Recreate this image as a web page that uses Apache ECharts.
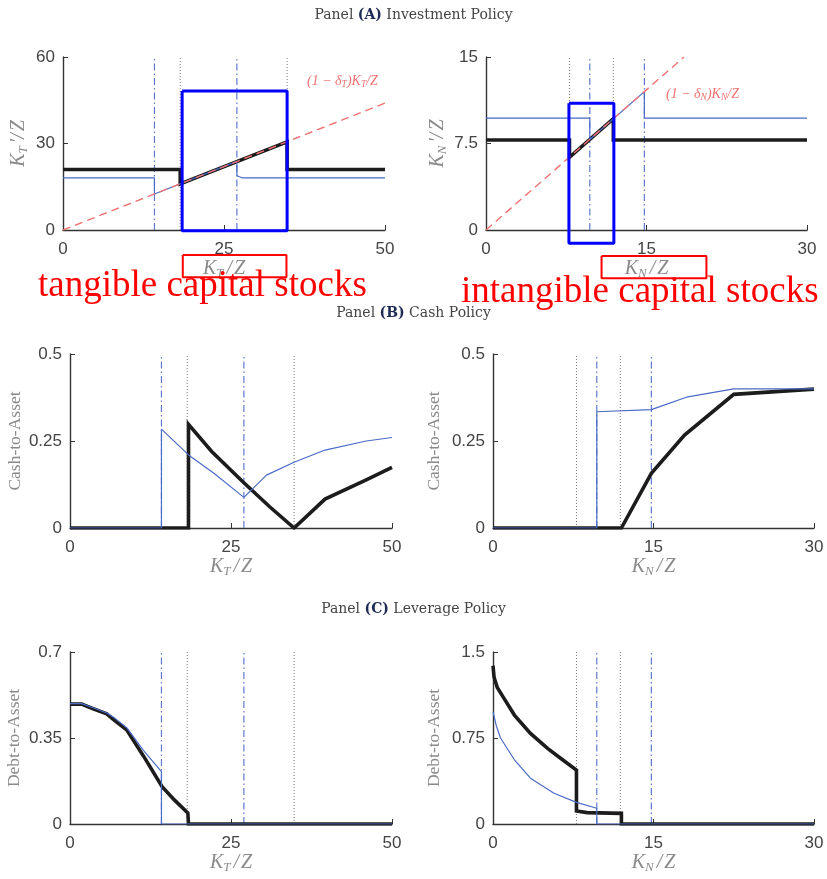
<!DOCTYPE html>
<html><head><meta charset="utf-8">
<script src="https://cdn.jsdelivr.net/npm/echarts@6/dist/echarts.min.js"></script>
<style>html,body{margin:0;padding:0;background:#fff}#c{width:827px;height:879px}</style>
</head><body><div id="c"></div>
<script>
// ---------------- data ----------------
// Panel A (investment policy)
const invT_black = [[0,21],[18.2,21],[18.2,16.0],[34.8,30.6],[34.8,21],[50,21]];
const invT_blue  = [[0,18.1],[14.2,18.1],[14.2,12.5],[27,23.8],[27,18.8],[27.8,18.1],[50,18.1]];
const invT_dep   = [[0,0],[50,44]];
const invN_black = [[0,7.8],[7.8,7.8],[7.8,6.3],[11.9,9.65],[11.9,7.8],[30,7.8]];
const invN_blue  = [[0,9.7],[9.7,9.7],[9.7,7.85],[14.8,12.0],[14.8,9.7],[30,9.7]];
const invN_dep   = [[0,0],[18.5,15]];
// Panel B (cash policy)
const cashT_black = [[0,0],[18.4,0],[18.4,0.298],[22,0.22],[27,0.13],[31,0.061],[34.8,0],[39.6,0.083],[46,0.138],[50,0.174]];
const cashT_blue  = [[0,0],[14.2,0],[14.2,0.284],[18.4,0.21],[22.3,0.158],[27,0.088],[30.5,0.152],[34.8,0.189],[39.6,0.224],[46,0.25],[50,0.26]];
const cashN_black = [[0,0],[12,0],[14.8,0.157],[17.9,0.267],[22.5,0.384],[30,0.399]];
const cashN_blue  = [[0,0],[9.7,0],[9.7,0.334],[14.8,0.34],[18.2,0.377],[22.5,0.40],[30,0.40]];
// Panel C (leverage policy)
const debtT_black = [[0,0.488],[1.8,0.488],[3.5,0.47],[5.7,0.448],[7,0.42],[8.8,0.383],[11.4,0.277],[14.3,0.152],[16.2,0.098],[18.3,0.045],[18.4,0],[50,0]];
const debtT_blue  = [[0,0.49],[1.8,0.49],[3.5,0.474],[5.7,0.452],[7,0.43],[8.8,0.392],[11.4,0.3],[14.2,0.213],[14.2,0],[50,0]];
const debtN_black = [[0,1.38],[0.1,1.28],[0.4,1.19],[1.0,1.1],[2,0.95],[3.5,0.79],[5.1,0.66],[6.5,0.56],[7.8,0.47],[7.8,0.113],[8.8,0.099],[12,0.093],[12,0],[30,0]];
const debtN_blue  = [[0,0.98],[0.3,0.86],[0.7,0.75],[2,0.56],[3.5,0.4],[5.7,0.268],[7.8,0.189],[9.7,0.137],[9.7,0],[30,0]];
// reference vertical lines
const vT_dashdot = [14.2, 27];
const vT_dotted  = [18.2, 34.8];
const vN_dashdot = [9.7, 14.8];
const vN_dotted  = [7.8, 11.9];
// highlight boxes (annotations, in data units)
const boxT_blue = [[18.5,48.2],[34.8,48.2],[34.8,-0.3],[18.5,-0.3],[18.5,48.2]];
const boxN_blue = [[7.75,11.0],[11.95,11.0],[11.95,-1.15],[7.75,-1.15],[7.75,11.0]];
const boxT_red  = [[18.6,-8.7],[34.7,-8.7],[34.7,-16.4],[18.6,-16.4],[18.6,-8.7]];
const boxN_red  = [[10.8,-2.25],[20.6,-2.25],[20.6,-4.19],[10.8,-4.19],[10.8,-2.25]];
// axes
const xMax = [50,30,50,30,50,30];
const xStep = [25,15,25,15,25,15];
const yMax = [60,15,0.5,0.5,0.7,1.5];
const yStep = [30,7.5,0.25,0.25,0.35,0.75];
const xNames = ['{i|K}{s|T}{sl|/}{i|Z}','{i|K}{s|N}{sl|/}{i|Z}','{i|K}{s|T}{sl|/}{i|Z}','{i|K}{s|N}{sl|/}{i|Z}','{i|K}{s|T}{sl|/}{i|Z}','{i|K}{s|N}{sl|/}{i|Z}'];
const yNames = ['{i|K}{s|T}{sl|\u2032/}{i|Z}','{i|K}{s|N}{sl|\u2032/}{i|Z}','{r|Cash-to-Asset}','{r|Cash-to-Asset}','{r|Debt-to-Asset}','{r|Debt-to-Asset}'];
const panelTitles = [['(A)',' Investment Policy'],['(B)',' Cash Policy'],['(C)',' Leverage Policy']];
const annoTexts = ['tangible capital stocks','intangible capital stocks'];

// ---------------- layout ----------------
const grids = [
  {left:63, top:57, width:322, height:173},
  {left:486, top:57, width:321, height:173},
  {left:70, top:354, width:322, height:174},
  {left:493, top:354, width:321, height:174},
  {left:70, top:652, width:322, height:172},
  {left:493, top:652, width:321, height:172}
];
const xGap = [26,26,26,26,22,22];
const yGap = [33,37,46,50,47,50];

const nameRich = {
  i:{fontFamily:'Liberation Serif',fontStyle:'italic',fontSize:20,color:'#8a8a8a'},
  sl:{fontFamily:'Liberation Serif',fontStyle:'italic',fontSize:20,color:'#8a8a8a',padding:[0,2,0,3]},
  s:{fontFamily:'Liberation Serif',fontStyle:'italic',fontSize:13,color:'#8a8a8a',verticalAlign:'bottom',padding:[9,0,0,0]},
  r:{fontFamily:'Liberation Serif',fontSize:17.5,color:'#8a8a8a'}
};
const axisLine = {show:true,lineStyle:{color:'#333',width:1.4}};
const xAxes = grids.map((g,i)=>({
  type:'value', gridIndex:i, min:0, max:xMax[i], interval:xStep[i],
  axisLine, axisTick:{show:true,inside:true,length:5,lineStyle:{color:'#333'}},
  splitLine:{show:false},
  axisLabel:{fontFamily:'Liberation Sans',fontSize:17,color:'#444',margin:11},
  name:xNames[i], nameLocation:'middle', nameGap:xGap[i], nameTextStyle:{rich:nameRich}
}));
const yAxes = grids.map((g,i)=>({
  type:'value', gridIndex:i, min:0, max:yMax[i], interval:yStep[i],
  axisLine, axisTick:{show:true,inside:true,length:5,lineStyle:{color:'#333'}},
  splitLine:{show:false},
  axisLabel:{fontFamily:'Liberation Sans',fontSize:17,color:'#444',margin:8},
  name:yNames[i], nameLocation:'middle', nameGap:yGap[i], nameTextStyle:{rich:nameRich}
}));

const series = [];
function addLine(gi, data, lineStyle, z, clip){
  series.push({type:'line', xAxisIndex:gi, yAxisIndex:gi, data, symbol:'none', silent:true,
    animation:false, lineStyle, z, clip: clip!==false});
}
const dashDot = {color:'#5f78cc',width:1.2,type:[7,3,1.5,3]};
const dotted  = {color:'#777',width:1,type:[1,2]};
const blackS  = {color:'#1c1c1c',width:3.6,join:'miter'};
const blueS   = {color:'#4a6bc6',width:1.2};
const redS    = {color:'#f07272',width:1.4,type:[8,5]};
const boxBlue = {color:'#0000ff',width:3};
const boxRed  = {color:'#ff0000',width:2};

function verticals(gi, xs, style){
  xs.forEach(x=>addLine(gi, [[x,0],[x,yMax[gi]]], style, 1));
}
const sets = [
  [invT_black, invT_blue, vT_dashdot, vT_dotted],
  [invN_black, invN_blue, vN_dashdot, vN_dotted],
  [cashT_black, cashT_blue, vT_dashdot, vT_dotted],
  [cashN_black, cashN_blue, vN_dashdot, vN_dotted],
  [debtT_black, debtT_blue, vT_dashdot, vT_dotted],
  [debtN_black, debtN_blue, vN_dashdot, vN_dotted]
];
sets.forEach((s,gi)=>{
  verticals(gi, s[2], dashDot);
  verticals(gi, s[3], dotted);
  addLine(gi, s[0], blackS, 2);
  addLine(gi, s[1], blueS, 3);
});
addLine(0, invT_dep, redS, 4);
addLine(1, invN_dep, redS, 4);
addLine(0, boxT_blue, boxBlue, 6, false);
addLine(1, boxN_blue, boxBlue, 6, false);
addLine(0, boxT_red, boxRed, 6, false);
addLine(1, boxN_red, boxRed, 6, false);

const titleY = [17, 315, 611];
const titleRich = {
  n:{fontFamily:'DejaVu Serif',fontSize:14,fill:'#444'},
  b:{fontFamily:'DejaVu Serif',fontSize:14,fontWeight:'bold',fill:'#1f2a55'}
};
const graphics = panelTitles.map((t,i)=>({
  type:'text', left:'center', top:titleY[i]-9, silent:true,
  style:{text:'{n|Panel }{b|'+t[0]+'}{n|'+t[1]+'}', rich:titleRich}
}));
const depRich = {
  i:{fontFamily:'Liberation Serif',fontStyle:'italic',fontSize:14,fill:'#f07272'},
  s:{fontFamily:'Liberation Serif',fontStyle:'italic',fontSize:9.5,fill:'#f07272',verticalAlign:'bottom',padding:[6,0,0,0]}
};
graphics.push({type:'text', x:307, y:73, silent:true,
  style:{text:'{i|(1 \u2212 \u03b4}{s|T}{i|)K}{s|T}{i|/Z}', rich:depRich}});
graphics.push({type:'text', x:666, y:86, silent:true,
  style:{text:'{i|(1 \u2212 \u03b4}{s|N}{i|)K}{s|N}{i|/Z}', rich:depRich}});
graphics.push({type:'text', x:38, y:286, z:100, silent:true,
  style:{text:annoTexts[0], fontFamily:'Liberation Serif', fontSize:37, fill:'#ff0000', verticalAlign:'middle'}});
graphics.push({type:'text', x:461, y:292, z:100, silent:true,
  style:{text:annoTexts[1], fontFamily:'Liberation Serif', fontSize:37, fill:'#ff0000', verticalAlign:'middle'}});

const chart = echarts.init(document.getElementById('c'));
chart.setOption({
  animation:false,
  backgroundColor:'#fff',
  grid: grids,
  xAxis: xAxes,
  yAxis: yAxes,
  series,
  graphic: graphics
});
</script></body></html>
